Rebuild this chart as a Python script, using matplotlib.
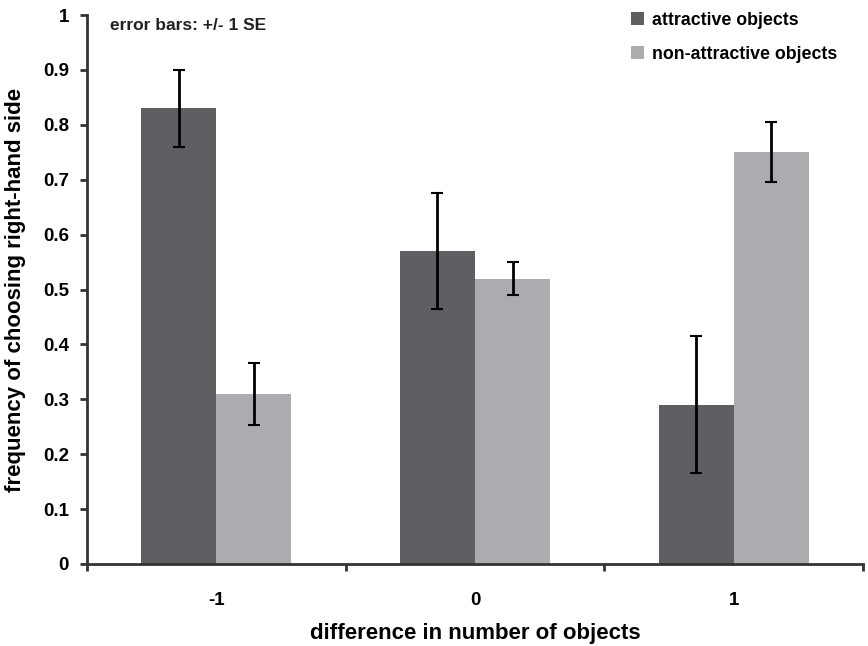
import numpy as np
import matplotlib.pyplot as plt

plt.rcParams['font.family'] = ['Liberation Sans', 'DejaVu Sans']
plt.rcParams['font.weight'] = 'bold'
plt.rcParams['axes.labelweight'] = 'bold'

# data
categories = ['-1', '0', '1']
attractive = [0.83, 0.57, 0.29]
attractive_se = [0.07, 0.105, 0.125]
non_attractive = [0.31, 0.52, 0.75]
non_attractive_se = [0.057, 0.03, 0.055]

dark = '#5e5f63'
light = '#abacaf'

fig = plt.figure(figsize=(8.68, 6.46), dpi=100)
ax = fig.add_axes([87 / 868, 1 - 564 / 646, 776 / 868, 549 / 646])

x = np.arange(len(categories))
w = 0.29
err_kw = dict(ecolor='black', elinewidth=2, capsize=4, capthick=1.5)
ax.bar(x - w / 2, attractive, w, yerr=attractive_se, color=dark,
       label='attractive objects', error_kw=err_kw, zorder=2)
ax.bar(x + w / 2, non_attractive, w, yerr=non_attractive_se, color=light,
       label='non-attractive objects', error_kw=err_kw, zorder=2)

ax.set_xlim(-0.5, 2.5)
ax.set_ylim(0, 1)
ax.set_yticks(np.arange(0, 1.01, 0.1))
ax.set_yticklabels(['0'] + ['%.1f' % v for v in np.arange(0.1, 0.95, 0.1)] + ['1'])
# category labels in the middle, tick marks on the group boundaries
ax.set_xticks([-0.5, 0.5, 1.5, 2.5])
ax.set_xticklabels([])
ax.set_xticks(x, minor=True)
ax.set_xticklabels(categories, minor=True)
ax.tick_params(axis='x', which='minor', length=0, pad=20, labelsize=13.5)
ax.tick_params(axis='x', which='major', length=5, width=2, color='#333333')
ax.tick_params(axis='y', length=5, width=2, color='#333333', labelsize=13.5, pad=8)

for s in ['top', 'right']:
    ax.spines[s].set_visible(False)
for s in ['left', 'bottom']:
    ax.spines[s].set_linewidth(2)
    ax.spines[s].set_color('#333333')

ax.set_xlabel('difference in number of objects', fontsize=16, labelpad=10)
ax.set_ylabel('frequency of choosing right-hand side', fontsize=16, labelpad=12)

ax.text(0.03, 0.995, 'error bars: +/- 1 SE', transform=ax.transAxes,
        fontsize=12.5, va='top', ha='left', color='#222222')

ax.legend(loc='upper right', bbox_to_anchor=(0.988, 1.035), frameon=False,
          fontsize=12.8, handlelength=0.7, handleheight=0.7,
          handletextpad=0.5, labelspacing=0.95)

fig.savefig('out.png', dpi=100)
